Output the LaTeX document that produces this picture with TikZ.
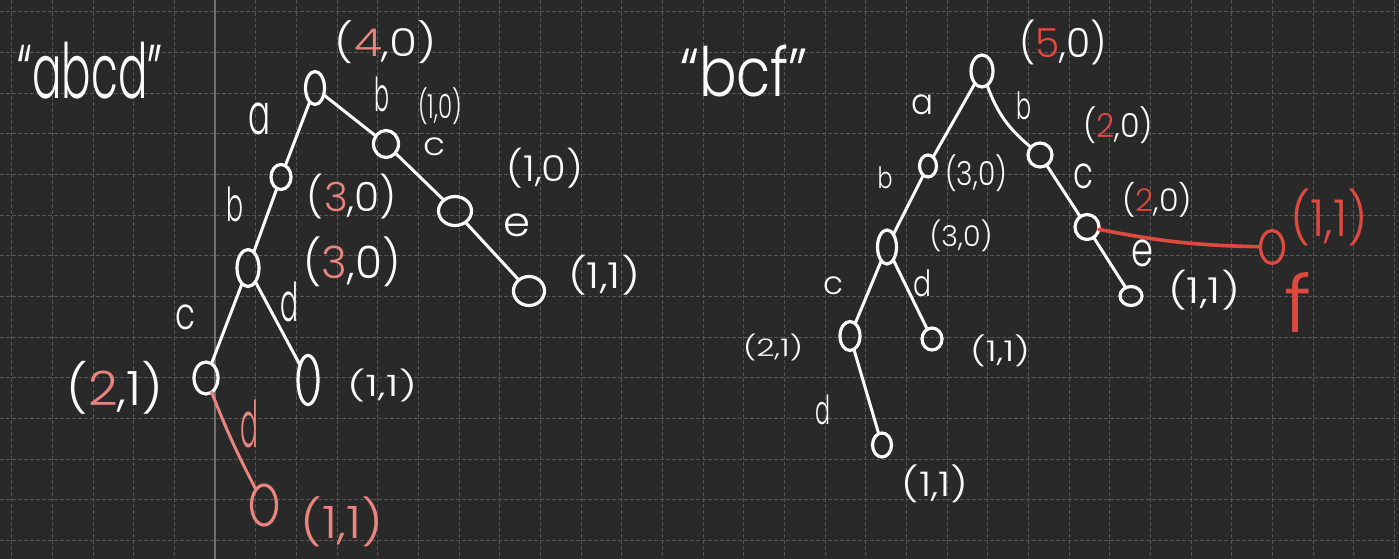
\documentclass[tikz,border=0pt]{standalone}
\usepackage{fontspec}
\setmainfont{Poppins}[UprightFont=* Light]
\usetikzlibrary{shapes.geometric}
\definecolor{bgc}{HTML}{292929}
\definecolor{gridc}{HTML}{555555}
\definecolor{axisc}{HTML}{6E6E6E}
\definecolor{pinkc}{HTML}{E8857F}
\definecolor{redc}{HTML}{DF4A3F}
\definecolor{inkc}{HTML}{FAFAFA}
\newcommand{\fit}[3]{\resizebox*{#1pt}{#2pt}{#3}}
\newcommand{\pk}[1]{\textcolor{pinkc}{#1}}
\newcommand{\rd}[1]{\textcolor{redc}{#1}}
\begin{document}
\begin{tikzpicture}[x=1pt,y=-1pt,
  vtx/.style={draw=inkc, line width=3.2pt, ellipse, inner sep=0pt, outer sep=0pt},
  vs/.style 2 args={vtx, minimum width=#1pt, minimum height=#2pt},
  lbl/.style={inner sep=0pt, outer sep=0pt, text=inkc},
  edge/.style={draw=inkc, line width=3pt, line cap=round},
  gridl/.style={gridc, line width=1pt, dash pattern=on 4pt off 2pt}]
\fill[bgc] (0,0) rectangle (1399,559);
\useasboundingbox (0,0) rectangle (1399,559);
\foreach \i in {0,...,34} \draw[gridl] ({11.7+40.67*\i},0) -- ({11.7+40.67*\i},559);
\foreach \j in {0,...,13} \draw[gridl] (0,{11.7+40.67*\j}) -- (1399,{11.7+40.67*\j});
\draw[axisc, line width=1.8pt] (215,0) -- (215,559);

% ---------- left tree ----------
\node[lbl] (tA) at (90,71) {\fit{145}{57}{“abcd”}};
\node[vs={19}{33}] (L0) at (315,88) {};
\node[vs={20}{25}] (L1) at (281,177) {};
\node[vs={22}{37}] (L2) at (248,268) {};
\node[vs={24}{32}] (L3) at (206,378) {};
\node[vs={20}{49}] (L4) at (308,380) {};
\node[vs={25}{40}, draw=pinkc] (L5) at (264,505) {};
\node[vs={25}{27}] (L6) at (386,144) {};
\node[vs={33}{29}] (L7) at (455,211) {};
\node[vs={31}{29}] (L8) at (529,291) {};

\draw[edge] (L0) -- (L1);
\draw[edge] (L1) -- (L2);
\draw[edge] (L2) -- (L3);
\draw[edge] (L2) -- (L4);
\draw[edge, draw=pinkc] (L3) to[bend right=3] (L5);
\draw[edge] (L0) -- (L6);
\draw[edge] (L6) -- (L7);
\draw[edge] (L7) -- (L8);

\node[lbl] (l40) at (386,42) {\fit{102}{43}{(\pk{4},0)}};
\node[lbl] (la1) at (259,119) {\fit{22}{32}{a}};
\node[lbl] (lb1) at (382,94) {\fit{15}{35}{b}};
\node[lbl] (l10a) at (440,106) {\fit{44}{37}{(1,0)}};
\node[lbl] (lc1) at (434,147) {\fit{22}{18}{c}};
\node[lbl] (l10b) at (545,168) {\fit{77}{40}{(1,0)}};
\node[lbl] (le1) at (517,225) {\fit{27}{23}{e}};
\node[lbl] (l11a) at (604,275) {\fit{72}{40}{(1,1)}};
\node[lbl] (l30a) at (352,196) {\fit{90}{45}{(\pk{3},0)}};
\node[lbl] (lb2) at (235,204) {\fit{17}{35}{b}};
\node[lbl] (l30b) at (352,262) {\fit{97}{50}{(\pk{3},0)}};
\node[lbl] (lc2) at (185,317) {\fit{20}{25}{c}};
\node[lbl] (ld2) at (289,302) {\fit{18}{40}{d}};
\node[lbl] (l21) at (115,388) {\fit{97}{53}{(\pk{2},1)}};
\node[lbl] (l11b) at (382,385) {\fit{70}{33}{(1,1)}};
\node[lbl, text=pinkc] (ld3) at (249,424) {\fit{18}{48}{d}};
\node[lbl, text=pinkc] (l11c) at (342,522) {\fit{83}{50}{(1,1)}};

% ---------- right tree ----------
\node[lbl] (tB) at (744,71) {\fit{128}{52}{“bcf”}};
\node[vs={22}{32}] (R0) at (982,71) {};
\node[vs={17}{22}] (R1) at (928,166) {};
\node[vs={19}{34}] (R2) at (887,247) {};
\node[vs={20}{29}] (R3) at (850,336) {};
\node[vs={19}{24}] (R4) at (882,445) {};
\node[vs={20}{22}] (R5) at (932,339) {};
\node[vs={24}{24}] (R6) at (1040,155) {};
\node[vs={24}{25}] (R7) at (1087,227) {};
\node[vs={22}{19}] (R8) at (1131,296) {};
\node[vs={23}{33}, draw=redc] (R9) at (1272,247) {};

\draw[edge] (R0) -- (R1);
\draw[edge] (R1) -- (R2);
\draw[edge] (R2) -- (R3);
\draw[edge] (R2) -- (R5);
\draw[edge] (R3) -- (R4);
\draw[edge] (R0) to[bend right=15] (R6);
\draw[edge] (R6) -- (R7);
\draw[edge] (R7) -- (R8);
\draw[edge, draw=redc, line width=3.6pt] (R7) to[bend right=5] (R9);

\node[lbl] (r50) at (1063,42) {\fit{88}{45}{(\rd{5},0)}};
\node[lbl] (ra1) at (922,105) {\fit{22}{20}{a}};
\node[lbl] (rb1) at (1024,106) {\fit{15}{28}{b}};
\node[lbl] (r30a) at (976,173) {\fit{62}{37}{(3,0)}};
\node[lbl] (r20a) at (1118,125) {\fit{70}{37}{(\rd{2},0)}};
\node[lbl] (rc1) at (1083,176) {\fit{20}{25}{c}};
\node[lbl] (r20b) at (1157,200) {\fit{70}{35}{(\rd{2},0)}};
\node[lbl] (re1) at (1142,253) {\fit{22}{27}{e}};
\node[lbl] (r11a) at (1204,290) {\fit{72}{40}{(1,1)}};
\node[lbl] (rb2) at (885,178) {\fit{15}{22}{b}};
\node[lbl] (r30b) at (961,236) {\fit{63}{32}{(3,0)}};
\node[lbl] (rc2) at (833,286) {\fit{20}{18}{c}};
\node[lbl] (rd2) at (922,283) {\fit{18}{27}{d}};
\node[lbl] (r21) at (773,347) {\fit{60}{27}{(2,1)}};
\node[lbl] (r11b) at (1000,351) {\fit{60}{32}{(1,1)}};
\node[lbl] (rd3) at (823,410) {\fit{15}{30}{d}};
\node[lbl] (r11c) at (935,484) {\fit{67}{38}{(1,1)}};
\node[lbl, text=redc] (r11d) at (1329,217) {\fit{78}{57}{(1,1)}};
\node[lbl, text=redc] (rf) at (1298,302) {\fit{27}{60}{f}};
\end{tikzpicture}
\end{document}
